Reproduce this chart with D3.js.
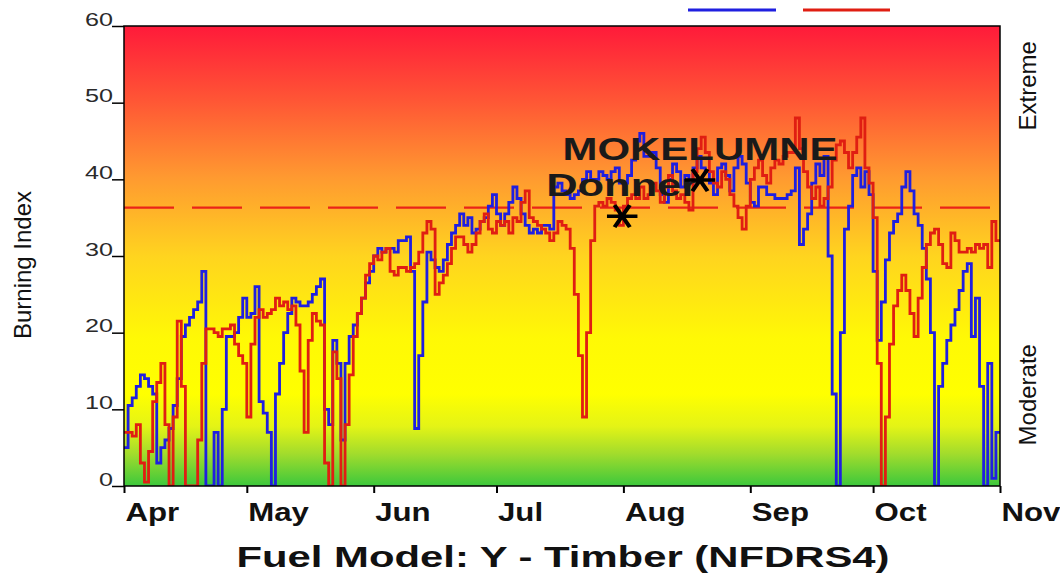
<!DOCTYPE html>
<html>
<head>
<meta charset="utf-8">
<script src="https://cdn.jsdelivr.net/npm/d3@7"></script>
<style>
  body { margin: 0; background: #fff; }
  svg { display: block; font-family: "Liberation Sans", Arial, sans-serif; }
</style>
</head>
<body>
<svg id="chart" width="1060" height="573"></svg>
<script>
"use strict"

var startDate = "2023-04-01"
var endDate = "2023-11-01"
var monthLabels = ["Apr", "May", "Jun", "Jul", "Aug", "Sep", "Oct", "Nov"]
var yTicks = [0, 10, 20, 30, 40, 50, 60]
var seriesNames = ["MOKELUMNE", "Donner"]

// daily Burning Index, Apr 1 .. Oct 31
var mokelumne = [
  5, 10.5, 11.5, 13, 14.5, 14, 13, 12, 3, 5,
  6, 7.5, 10.5, 14, 19.5, 21, 22, 23, 24, 28,
  0, 0, 7, 0, 10, 19.5, 19.5, 20, 22, 24.5,
  22, 22.5, 26, 11, 9.5, 7, 0, 12, 16, 20,
  22.5, 24.5, 24, 23.5, 23.5, 24, 25, 26, 27, 10,
  8, 19, 16, 6, 16, 19.5, 21, 22.5, 24.5, 26.5, 28,
  30, 31, 30.5, 31, 31, 30.5, 32, 32, 32.5, 28,
  7.5, 17, 24, 30.5, 29.5, 28.5, 28, 29.5, 31.5, 33,
  34, 35.5, 34, 35, 33, 33.5, 34.5, 35, 36.5, 38,
  35.5, 34, 35.5, 37, 39, 37.5, 35.5, 34, 33, 33.5,
  33, 34, 34, 33.5, 39, 39.5, 38.5, 38, 37.5, 38,
  38.5, 40, 41, 40, 40, 41, 40.5, 40, 41, 41.5, 39.5,
  39.5, 40.5, 42.5, 45, 46, 43, 43, 43.5, 41.5, 38,
  37, 40, 42, 41, 39, 40.5, 39.5, 41.5, 43, 41.5,
  41, 39.5, 38, 41.5, 42, 40.5, 38.5, 41.5, 43, 42, 39.5,
  37, 36.5, 39, 39, 38, 38, 37.5, 37.5, 37.5, 38,
  38.5, 41.5, 31.5, 33.5, 35.5, 39.5, 42, 40.5, 43, 30,
  12, 0, 20, 33.5, 36.5, 40.5, 41.5, 39, 41, 38,
  28, 19, 24, 29.5, 33, 34.5, 35.5, 39, 41, 38.5,
  35.5, 34, 31, 27, 20, 0, 13, 16, 19, 21,
  23, 25.5, 28, 29, 19.5, 24.5, 13, 0, 16, 1, 7
]

var donner = [
  7, 7, 6.5, 8, 3, 0.5, 4.5, 11, 13.5, 16,
  8, 0, 9, 21.5, 13, 0, 0, 0, 6, 16,
  20.5, 20.5, 20, 19.5, 20.5, 20.5, 21, 18.5, 17, 16,
  9, 18.5, 22, 23, 22, 22.5, 23, 24.5, 23.5, 24,
  23, 23.5, 21, 15, 7, 19, 22.5, 21.5, 21, 3,
  0, 17.5, 14, 0, 8, 14.5, 19.5, 22.5, 24.5, 27.5, 29,
  30, 29.5, 30.5, 31, 28, 27.5, 28.5, 28.5, 28, 28.5,
  29, 30.5, 33, 34.5, 33.5, 25, 26.5, 27.5, 29, 31,
  32.5, 32.5, 31.5, 30.5, 31.5, 33, 34.5, 35.5, 33.5, 33,
  34.5, 34, 34.5, 33, 35, 34.5, 37, 38.5, 35, 34.5,
  34, 33.5, 33, 32, 33, 34.5, 34, 33.5, 31, 25,
  17, 9, 20, 32, 36.5, 37, 36.5, 37.5, 37, 36, 34,
  36.5, 37.5, 38, 37.5, 39, 37.5, 38, 39.5, 38.5, 37,
  39, 40.5, 38.5, 37.5, 38, 37, 36, 41, 44, 45.5,
  43.5, 41, 39.5, 39, 41, 40, 38, 36.5, 35, 33.5, 36.5,
  40, 41.5, 42.5, 40.5, 39.5, 41.5, 42.5, 42, 43, 43.5,
  43.5, 48, 44, 41, 39, 37.5, 39, 36.5, 37.5, 39,
  42.5, 44.5, 45, 43.5, 41.5, 43.5, 45.5, 48, 41.5, 39.5,
  35, 16, 0, 9, 18.5, 23.5, 25.5, 27.5, 25.5, 22.5,
  19.5, 24.5, 28.5, 31.5, 33, 33.5, 31.5, 29, 28.5, 33,
  32, 30.5, 30.5, 31, 30.5, 31.5, 31, 31.5, 28.5, 34.5, 32
]

var markerNames = ["Donner", "MOKELUMNE"]
var markerTimes = ["2023-07-31T17:00", "2023-08-19T17:00"]
var markerValues = [35.2, 39.9]
var thresholdValue = 36.3
var zoneLabels = ["Extreme", "Moderate"]
var zoneValues = [52.2, 11.9]

var seriesColors = ["#1f1fe0", "#e01e12"]

var parseDay = d3.timeParse("%Y-%m-%d")
var parseTime = d3.timeParse("%Y-%m-%dT%H:%M")

var svg = d3.select("#chart")

var x = d3.scaleTime()
  .domain([parseDay(startDate), parseDay(endDate)])
  .range([124, 1000])
var y = d3.scaleLinear()
  .domain([0, 60])
  .range([486, 26])

var plotW = x.range()[1] - x.range()[0]
var plotH = y.range()[0] - y.range()[1]

function toPoints(values) {
  var start = parseDay(startDate)
  var pts = values.map(function(v, i){
    return {date: d3.timeDay.offset(start, i), value: v}
  })
  // carry the last day across to the end of the axis
  pts.push({date: parseDay(endDate), value: values[values.length - 1]})
  return pts
}

// background gradient, red on top to green at the bottom
var defs = svg.append("defs")
var grad = defs.append("linearGradient")
  .attr("id", "bgGrad")
  .attr("x1", 0).attr("y1", 0).attr("x2", 0).attr("y2", 1)
grad.selectAll("stop")
  .data([[0, "#ff1a3a"], [0.16, "#ff5535"], [0.33, "#ff9a30"], [0.5, "#ffd41f"],
         [0.68, "#fff905"], [0.8, "#ffff00"], [0.87, "#e4f416"], [0.93, "#a2dc2c"], [1, "#3cc83c"]])
  .enter().append("stop")
  .attr("offset", function(d){ return d[0] })
  .attr("stop-color", function(d){ return d[1] })

defs.append("clipPath").attr("id", "plotClip")
  .append("rect")
  .attr("x", x.range()[0]).attr("y", y.range()[1])
  .attr("width", plotW).attr("height", plotH)

svg.append("rect")
  .attr("x", x.range()[0]).attr("y", y.range()[1])
  .attr("width", plotW).attr("height", plotH)
  .attr("fill", "url(#bgGrad)")

var plot = svg.append("g").attr("clip-path", "url(#plotClip)")

plot.append("line")
  .attr("x1", x.range()[0]).attr("x2", x.range()[1])
  .attr("y1", y(thresholdValue)).attr("y2", y(thresholdValue))
  .attr("stroke", "#ea2418")
  .attr("stroke-width", 2.2)
  .attr("stroke-dasharray", "50 18")

var line = d3.line()
  .x(function(d){ return x(d.date) })
  .y(function(d){ return y(d.value) })
  .curve(d3.curveStepAfter)

plot.selectAll(".series")
  .data([mokelumne, donner])
  .enter().append("path")
  .attr("class", "series")
  .attr("d", function(d){ return line(toPoints(d)) })
  .attr("fill", "none")
  .attr("stroke", function(d, i){ return seriesColors[i] })
  .attr("stroke-width", 2.8)
  .attr("stroke-linejoin", "miter")

// frame
svg.append("rect")
  .attr("x", x.range()[0]).attr("y", y.range()[1])
  .attr("width", plotW).attr("height", plotH)
  .attr("fill", "none")
  .attr("stroke", "#000")
  .attr("stroke-width", 1.5)

// y axis, labels sit on top of the tick
var yAxis = svg.append("g")
  .attr("transform", "translate(" + x.range()[0] + ",0)")
  .attr("font-family", null).attr("font-size", null)
  .call(d3.axisLeft(y).tickValues(yTicks).tickSize(12).tickFormat(d3.format("d")))
yAxis.select(".domain").remove()
yAxis.selectAll("line").attr("stroke", "#000").attr("stroke-width", 1.5)
yAxis.selectAll("text")
  .attr("x", 0).attr("dy", 0)
  .attr("transform", "translate(-11,-1) scale(1.4,1)")
  .attr("font-size", 18)
  .attr("fill", "#2a2a2a")

// x axis, month names start at the tick
var months = d3.timeMonth.range(parseDay(startDate), d3.timeDay.offset(parseDay(endDate), 1))
var xAxis = svg.append("g")
  .attr("transform", "translate(0," + y.range()[0] + ")")
  .attr("font-family", null).attr("font-size", null)
  .call(d3.axisBottom(x).tickValues(months).tickSize(7)
    .tickFormat(function(d, i){ return monthLabels[i] }))
xAxis.select(".domain").remove()
xAxis.selectAll("line").attr("stroke", "#000").attr("stroke-width", 2)
xAxis.selectAll("text")
  .attr("y", 0).attr("dy", 0)
  .attr("text-anchor", "start")
  .attr("transform", "translate(1,35) scale(1.2,1)")
  .attr("font-size", 26)
  .attr("font-weight", "bold")
  .attr("fill", "#111")

svg.append("text")
  .attr("x", 563).attr("y", 567)
  .attr("text-anchor", "middle")
  .attr("font-size", 30)
  .attr("font-weight", "bold")
  .attr("fill", "#111")
  .attr("textLength", 653)
  .attr("lengthAdjust", "spacingAndGlyphs")
  .text("Fuel Model: Y - Timber (NFDRS4)")

svg.append("text")
  .attr("transform", "translate(31,265) rotate(-90)")
  .attr("text-anchor", "middle")
  .attr("font-size", 24)
  .attr("fill", "#111")
  .text("Burning Index")

svg.selectAll(".zone")
  .data(zoneLabels)
  .enter().append("text")
  .attr("class", "zone")
  .attr("transform", function(d, i){ return "translate(1036," + y(zoneValues[i]) + ") rotate(-90)" })
  .attr("text-anchor", "middle")
  .attr("font-size", 24)
  .attr("fill", "#111")
  .text(function(d){ return d })

// station markers and their names
var markers = markerNames.map(function(n, i){
  return {name: n, date: parseTime(markerTimes[i]), value: markerValues[i]}
})
var star = d3.symbol().type(d3.symbolAsterisk).size(456)

var mk = svg.selectAll(".marker")
  .data(markers)
  .enter().append("g")
  .attr("class", "marker")
  .attr("transform", function(d){ return "translate(" + x(d.date) + "," + y(d.value) + ")" })
mk.append("path")
  .attr("d", star)
  .attr("transform", "scale(1.2,1) rotate(90)")
  .attr("fill", "none")
  .attr("stroke", "#000")
  .attr("stroke-width", 3.5)
mk.append("text")
  .attr("y", -20)
  .attr("text-anchor", "middle")
  .attr("font-size", 32)
  .attr("font-weight", "bold")
  .attr("fill", "#1a1a1a")
  .attr("textLength", function(d){ return d.name.length > 6 ? 275 : 152 })
  .attr("lengthAdjust", "spacingAndGlyphs")
  .text(function(d){ return d.name })

// legend swatches
svg.selectAll(".legend")
  .data(seriesNames)
  .enter().append("line")
  .attr("class", "legend")
  .attr("x1", function(d, i){ return 688 + i * 115 })
  .attr("x2", function(d, i){ return 776 + i * 114 })
  .attr("y1", 10).attr("y2", 10)
  .attr("stroke", function(d, i){ return seriesColors[i] })
  .attr("stroke-width", 3)
</script>
</body>
</html>
